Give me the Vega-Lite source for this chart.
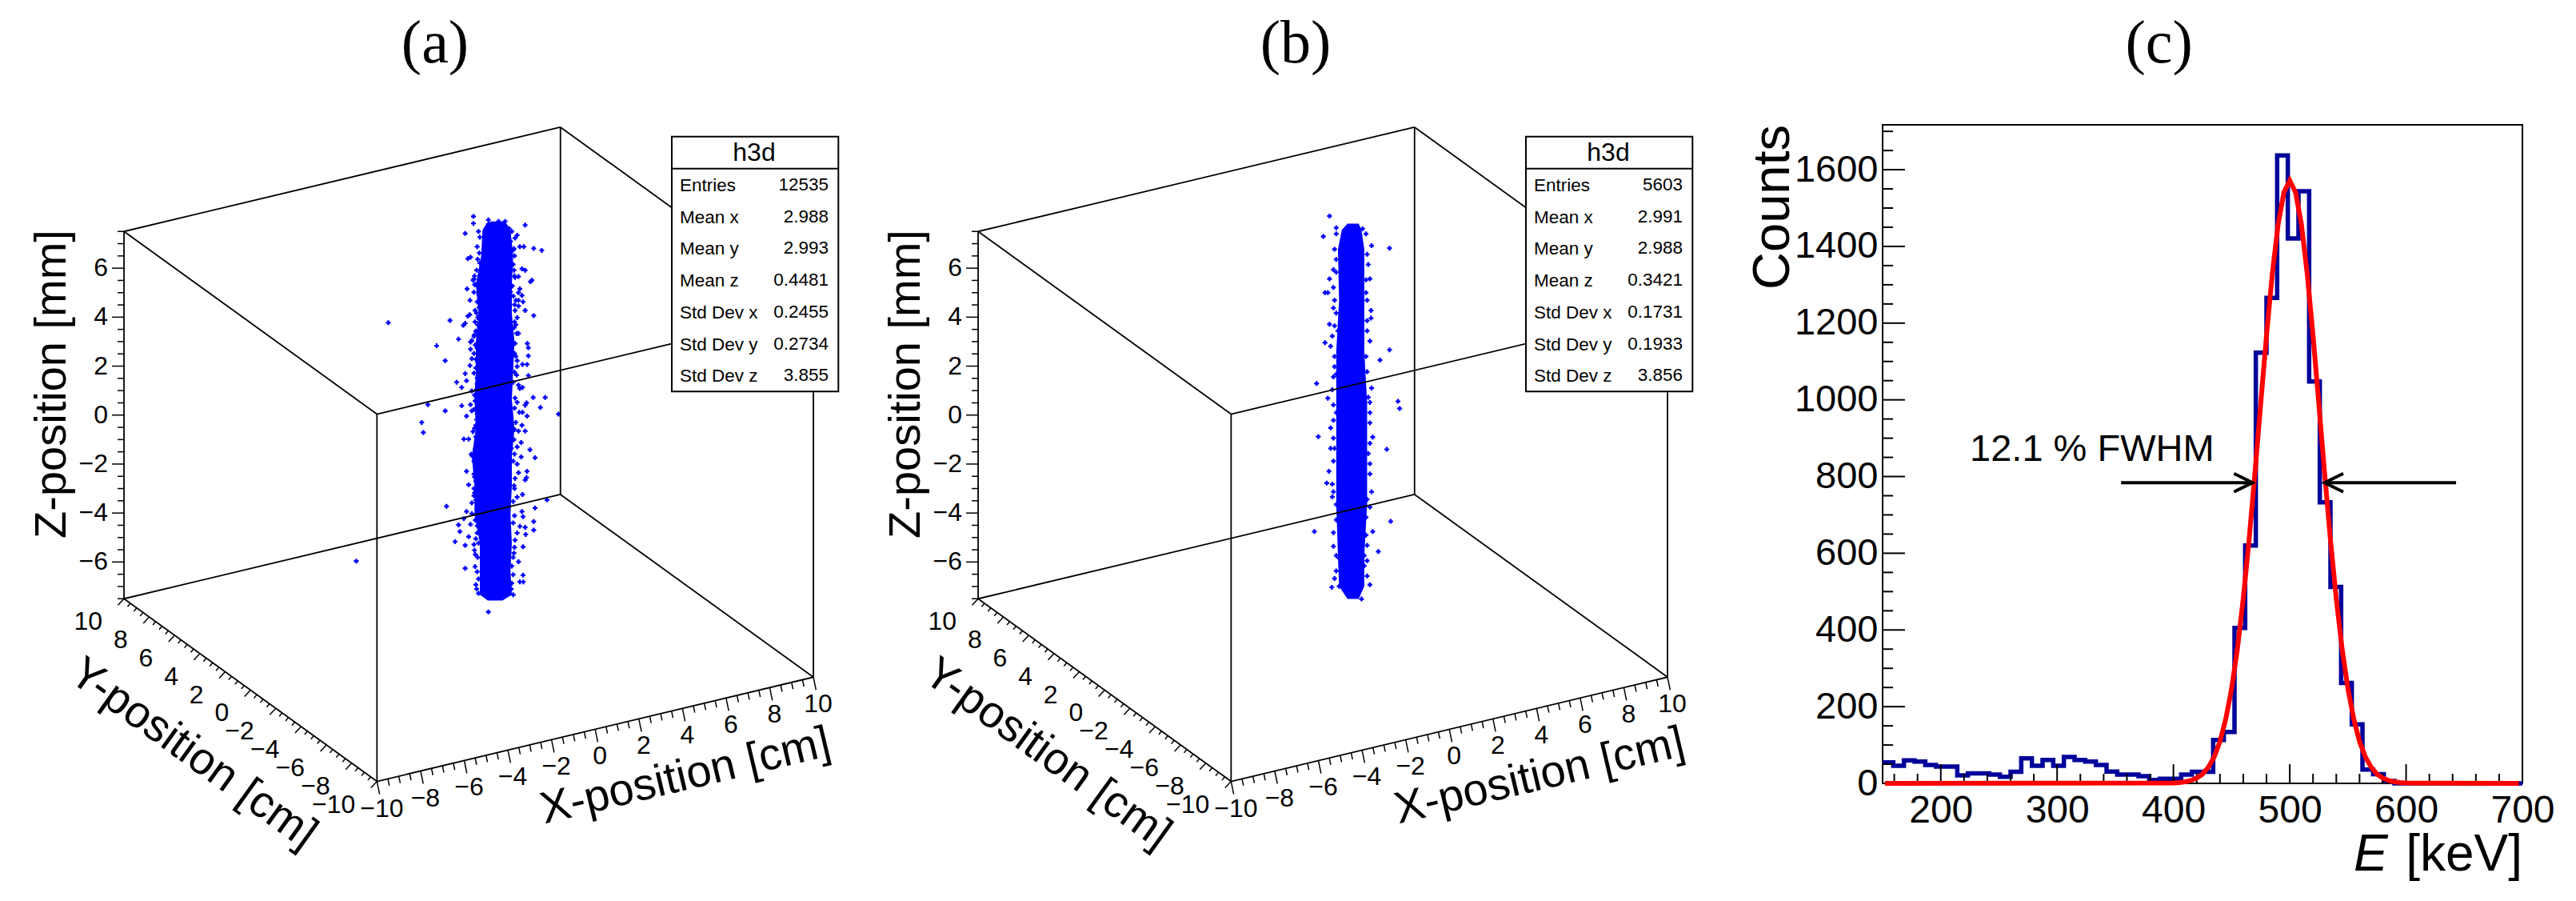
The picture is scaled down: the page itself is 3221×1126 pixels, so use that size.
{"$schema":"https://vega.github.io/schema/vega-lite/v6.json","padding":0,"background":"white","bounds":"flush","spacing":0,"config":{"view":{"stroke":null},"text":{"font":"Liberation Sans","color":"black"}},
"datasets":{
"edges":[{"x1":-10,"y1":-10,"z1":-7.5,"x2":10,"y2":-10,"z2":-7.5},{"x1":-10,"y1":-10,"z1":-7.5,"x2":-10,"y2":10,"z2":-7.5},{"x1":10,"y1":10,"z1":-7.5,"x2":10,"y2":-10,"z2":-7.5},{"x1":10,"y1":10,"z1":-7.5,"x2":-10,"y2":10,"z2":-7.5},{"x1":-10,"y1":-10,"z1":7.5,"x2":10,"y2":-10,"z2":7.5},{"x1":-10,"y1":-10,"z1":7.5,"x2":-10,"y2":10,"z2":7.5},{"x1":10,"y1":10,"z1":7.5,"x2":10,"y2":-10,"z2":7.5},{"x1":10,"y1":10,"z1":7.5,"x2":-10,"y2":10,"z2":7.5},{"x1":-10,"y1":-10,"z1":-7.5,"x2":-10,"y2":-10,"z2":7.5},{"x1":10,"y1":-10,"z1":-7.5,"x2":10,"y2":-10,"z2":7.5},{"x1":-10,"y1":10,"z1":-7.5,"x2":-10,"y2":10,"z2":7.5},{"x1":10,"y1":10,"z1":-7.5,"x2":10,"y2":10,"z2":7.5}],
"ticks3d":[{"a":"x","t":-10},{"a":"x","t":-9.5},{"a":"x","t":-9},{"a":"x","t":-8.5},{"a":"x","t":-8},{"a":"x","t":-7.5},{"a":"x","t":-7},{"a":"x","t":-6.5},{"a":"x","t":-6},{"a":"x","t":-5.5},{"a":"x","t":-5},{"a":"x","t":-4.5},{"a":"x","t":-4},{"a":"x","t":-3.5},{"a":"x","t":-3},{"a":"x","t":-2.5},{"a":"x","t":-2},{"a":"x","t":-1.5},{"a":"x","t":-1},{"a":"x","t":-0.5},{"a":"x","t":0},{"a":"x","t":0.5},{"a":"x","t":1},{"a":"x","t":1.5},{"a":"x","t":2},{"a":"x","t":2.5},{"a":"x","t":3},{"a":"x","t":3.5},{"a":"x","t":4},{"a":"x","t":4.5},{"a":"x","t":5},{"a":"x","t":5.5},{"a":"x","t":6},{"a":"x","t":6.5},{"a":"x","t":7},{"a":"x","t":7.5},{"a":"x","t":8},{"a":"x","t":8.5},{"a":"x","t":9},{"a":"x","t":9.5},{"a":"x","t":10},
{"a":"y","t":-10},{"a":"y","t":-9.5},{"a":"y","t":-9},{"a":"y","t":-8.5},{"a":"y","t":-8},{"a":"y","t":-7.5},{"a":"y","t":-7},{"a":"y","t":-6.5},{"a":"y","t":-6},{"a":"y","t":-5.5},{"a":"y","t":-5},{"a":"y","t":-4.5},{"a":"y","t":-4},{"a":"y","t":-3.5},{"a":"y","t":-3},{"a":"y","t":-2.5},{"a":"y","t":-2},{"a":"y","t":-1.5},{"a":"y","t":-1},{"a":"y","t":-0.5},{"a":"y","t":0},{"a":"y","t":0.5},{"a":"y","t":1},{"a":"y","t":1.5},{"a":"y","t":2},{"a":"y","t":2.5},{"a":"y","t":3},{"a":"y","t":3.5},{"a":"y","t":4},{"a":"y","t":4.5},{"a":"y","t":5},{"a":"y","t":5.5},{"a":"y","t":6},{"a":"y","t":6.5},{"a":"y","t":7},{"a":"y","t":7.5},{"a":"y","t":8},{"a":"y","t":8.5},{"a":"y","t":9},{"a":"y","t":9.5},{"a":"y","t":10},
{"a":"z","t":-7.5},{"a":"z","t":-7},{"a":"z","t":-6.5},{"a":"z","t":-6},{"a":"z","t":-5.5},{"a":"z","t":-5},{"a":"z","t":-4.5},{"a":"z","t":-4},{"a":"z","t":-3.5},{"a":"z","t":-3},{"a":"z","t":-2.5},{"a":"z","t":-2},{"a":"z","t":-1.5},{"a":"z","t":-1},{"a":"z","t":-0.5},{"a":"z","t":0},{"a":"z","t":0.5},{"a":"z","t":1},{"a":"z","t":1.5},{"a":"z","t":2},{"a":"z","t":2.5},{"a":"z","t":3},{"a":"z","t":3.5},{"a":"z","t":4},{"a":"z","t":4.5},{"a":"z","t":5},{"a":"z","t":5.5},{"a":"z","t":6},{"a":"z","t":6.5},{"a":"z","t":7},{"a":"z","t":7.5}],
"statsA":[{"row":0,"label":"Entries","value":"12535"},{"row":1,"label":"Mean x","value":"2.988"},{"row":2,"label":"Mean y","value":"2.993"},{"row":3,"label":"Mean z","value":"0.4481"},{"row":4,"label":"Std Dev x","value":"0.2455"},{"row":5,"label":"Std Dev y","value":"0.2734"},{"row":6,"label":"Std Dev z","value":"3.855"}],
"statsB":[{"row":0,"label":"Entries","value":"5603"},{"row":1,"label":"Mean x","value":"2.991"},{"row":2,"label":"Mean y","value":"2.988"},{"row":3,"label":"Mean z","value":"0.3421"},{"row":4,"label":"Std Dev x","value":"0.1731"},{"row":5,"label":"Std Dev y","value":"0.1933"},{"row":6,"label":"Std Dev z","value":"3.856"}],
"bodyA":[{"p":130,"l":340,"r":395},{"p":145,"l":320,"r":405},{"p":160,"l":310,"r":415},{"p":250,"l":305,"r":425},{"p":350,"l":285,"r":420},{"p":450,"l":295,"r":420},{"p":550,"l":285,"r":430},{"p":650,"l":285,"r":425},{"p":750,"l":280,"r":420},{"p":850,"l":285,"r":430},{"p":950,"l":270,"r":420},{"p":1050,"l":280,"r":420},{"p":1150,"l":280,"r":415},{"p":1250,"l":300,"r":420},{"p":1350,"l":300,"r":415},{"p":1430,"l":300,"r":420},{"p":1450,"l":330,"r":385}],
"bodyB":[{"p":250,"l":905,"r":925},{"p":262,"l":895,"r":930},{"p":300,"l":888,"r":935},{"p":400,"l":890,"r":935},{"p":500,"l":885,"r":935},{"p":600,"l":885,"r":940},{"p":700,"l":885,"r":940},{"p":800,"l":885,"r":940},{"p":900,"l":888,"r":935},{"p":960,"l":890,"r":935},{"p":985,"l":905,"r":925}],
"pointsA":[{"h":300,"p":185},{"h":298,"p":240},{"h":292,"p":262},{"h":288,"p":300},{"h":280,"p":320},{"h":275,"p":335},{"h":292,"p":345},{"h":296,"p":385},{"h":290,"p":410},{"h":297,"p":430},{"h":288,"p":450},{"h":300,"p":470},{"h":292,"p":490},{"h":285,"p":512},{"h":278,"p":530},{"h":270,"p":545},{"h":283,"p":560},{"h":290,"p":572},{"h":278,"p":590},{"h":292,"p":622},{"h":285,"p":640},{"h":290,"p":675},{"h":288,"p":715},{"h":280,"p":735},{"h":282,"p":755},{"h":278,"p":785},{"h":288,"p":820},{"h":280,"p":850},{"h":274,"p":862},{"h":285,"p":880},{"h":295,"p":905},{"h":282,"p":925},{"h":268,"p":940},{"h":278,"p":965},{"h":288,"p":985},{"h":278,"p":1010},{"h":285,"p":1035},{"h":280,"p":1075},{"h":285,"p":1100},{"h":290,"p":1130},{"h":270,"p":1148},{"h":283,"p":1170},{"h":290,"p":1190},{"h":285,"p":1235},{"h":280,"p":1275},{"h":292,"p":1300},{"h":290,"p":1350},{"h":295,"p":1375},{"h":288,"p":1410},{"h":420,"p":165},{"h":415,"p":200},{"h":428,"p":225},{"h":430,"p":250},{"h":425,"p":280},{"h":428,"p":300},{"h":432,"p":325},{"h":422,"p":355},{"h":425,"p":390},{"h":432,"p":440},{"h":440,"p":465},{"h":428,"p":500},{"h":438,"p":520},{"h":432,"p":555},{"h":430,"p":590},{"h":440,"p":635},{"h":438,"p":665},{"h":425,"p":690},{"h":450,"p":712},{"h":432,"p":745},{"h":430,"p":780},{"h":448,"p":795},{"h":435,"p":830},{"h":425,"p":850},{"h":445,"p":860},{"h":428,"p":890},{"h":418,"p":920},{"h":430,"p":940},{"h":425,"p":965},{"h":432,"p":1025},{"h":428,"p":1050},{"h":440,"p":1090},{"h":425,"p":1105},{"h":430,"p":1155},{"h":425,"p":1180},{"h":440,"p":1215},{"h":432,"p":1240},{"h":428,"p":1285},{"h":420,"p":1330},{"h":425,"p":1360},{"h":418,"p":1410},{"h":425,"p":1430},{"h":-43.5,"p":483},{"h":-163.5,"p":1313},{"h":276,"p":113},{"h":276,"p":137},{"h":332,"p":125},{"h":332,"p":140},{"h":370,"p":130},{"h":395,"p":130},{"h":470,"p":143},{"h":245,"p":172},{"h":295,"p":165},{"h":440,"p":178},{"h":432,"p":188},{"h":410,"p":155},{"h":290,"p":218},{"h":325,"p":205},{"h":450,"p":218},{"h":465,"p":218},{"h":502,"p":224},{"h":532,"p":231},{"h":425,"p":230},{"h":265,"p":255},{"h":255,"p":260},{"h":300,"p":275},{"h":458,"p":295},{"h":470,"p":300},{"h":430,"p":320},{"h":445,"p":322},{"h":278,"p":330},{"h":285,"p":350},{"h":490,"p":340},{"h":495,"p":335},{"h":280,"p":350},{"h":252,"p":365},{"h":278,"p":377},{"h":450,"p":365},{"h":445,"p":378},{"h":458,"p":388},{"h":415,"p":375},{"h":263,"p":405},{"h":462,"p":410},{"h":435,"p":405},{"h":445,"p":405},{"h":430,"p":420},{"h":445,"p":425},{"h":470,"p":440},{"h":282,"p":440},{"h":502,"p":458},{"h":262,"p":455},{"h":255,"p":460},{"h":292,"p":465},{"h":188,"p":475},{"h":282,"p":480},{"h":245,"p":485},{"h":238,"p":492},{"h":430,"p":480},{"h":435,"p":490},{"h":445,"p":520},{"h":300,"p":505},{"h":280,"p":525},{"h":220,"p":540},{"h":265,"p":550},{"h":138,"p":563},{"h":295,"p":560},{"h":478,"p":555},{"h":482,"p":570},{"h":265,"p":575},{"h":295,"p":585},{"h":482,"p":598},{"h":435,"p":600},{"h":170,"p":615},{"h":270,"p":608},{"h":285,"p":610},{"h":440,"p":615},{"h":460,"p":628},{"h":477,"p":628},{"h":263,"p":632},{"h":245,"p":660},{"h":278,"p":658},{"h":430,"p":655},{"h":482,"p":667},{"h":213,"p":690},{"h":250,"p":685},{"h":232,"p":708},{"h":290,"p":695},{"h":270,"p":720},{"h":445,"p":700},{"h":460,"p":708},{"h":105,"p":768},{"h":232,"p":772},{"h":265,"p":768},{"h":500,"p":743},{"h":545,"p":743},{"h":475,"p":762},{"h":470,"p":770},{"h":440,"p":760},{"h":527,"p":778},{"h":270,"p":790},{"h":170,"p":790},{"h":250,"p":808},{"h":290,"p":800},{"h":477,"p":808},{"h":460,"p":795},{"h":595,"p":801},{"h":82,"p":830},{"h":88,"p":865},{"h":285,"p":840},{"h":458,"p":840},{"h":470,"p":860},{"h":295,"p":870},{"h":430,"p":855},{"h":240,"p":888},{"h":258,"p":888},{"h":455,"p":900},{"h":440,"p":915},{"h":488,"p":925},{"h":507,"p":953},{"h":270,"p":945},{"h":455,"p":950},{"h":440,"p":975},{"h":250,"p":1000},{"h":477,"p":1000},{"h":445,"p":1005},{"h":475,"p":1022},{"h":470,"p":1030},{"h":280,"p":1020},{"h":258,"p":1047},{"h":430,"p":1060},{"h":278,"p":1060},{"h":278,"p":1085},{"h":460,"p":1081},{"h":552,"p":1100},{"h":175,"p":1122},{"h":270,"p":1110},{"h":507,"p":1128},{"h":250,"p":1140},{"h":458,"p":1140},{"h":462,"p":1158},{"h":240,"p":1165},{"h":265,"p":1185},{"h":502,"p":1175},{"h":220,"p":1187},{"h":450,"p":1192},{"h":470,"p":1195},{"h":502,"p":1205},{"h":225,"p":1210},{"h":472,"p":1220},{"h":258,"p":1228},{"h":290,"p":1215},{"h":207,"p":1245},{"h":245,"p":1258},{"h":278,"p":1255},{"h":295,"p":1250},{"h":462,"p":1263},{"h":430,"p":1265},{"h":283,"p":1290},{"h":445,"p":1315},{"h":245,"p":1338},{"h":282,"p":1332},{"h":462,"p":1362},{"h":450,"p":1385},{"h":463,"p":1385},{"h":285,"p":1395},{"h":295,"p":1425},{"h":332,"p":1490},{"h":425,"p":1300},{"h":420,"p":1390}],
"pointsB":[{"h":885,"p":270},{"h":882,"p":300},{"h":885,"p":345},{"h":880,"p":415},{"h":878,"p":470},{"h":882,"p":510},{"h":885,"p":545},{"h":878,"p":575},{"h":880,"p":635},{"h":882,"p":690},{"h":872,"p":735},{"h":878,"p":760},{"h":885,"p":830},{"h":880,"p":855},{"h":885,"p":900},{"h":882,"p":945},{"h":938,"p":270},{"h":942,"p":330},{"h":938,"p":385},{"h":940,"p":440},{"h":938,"p":510},{"h":942,"p":590},{"h":945,"p":640},{"h":942,"p":700},{"h":945,"p":720},{"h":940,"p":790},{"h":938,"p":860},{"h":935,"p":900},{"h":940,"p":940},{"h":873,"p":235},{"h":862,"p":275},{"h":885,"p":258},{"h":932,"p":260},{"h":948,"p":293},{"h":980,"p":298},{"h":885,"p":320},{"h":940,"p":310},{"h":880,"p":340},{"h":945,"p":358},{"h":873,"p":358},{"h":880,"p":375},{"h":870,"p":385},{"h":865,"p":385},{"h":940,"p":400},{"h":947,"p":420},{"h":947,"p":435},{"h":885,"p":425},{"h":873,"p":447},{"h":882,"p":450},{"h":865,"p":483},{"h":875,"p":490},{"h":945,"p":480},{"h":980,"p":497},{"h":963,"p":517},{"h":880,"p":550},{"h":850,"p":563},{"h":940,"p":540},{"h":948,"p":572},{"h":870,"p":592},{"h":880,"p":605},{"h":995,"p":598},{"h":998,"p":612},{"h":945,"p":600},{"h":853,"p":667},{"h":875,"p":650},{"h":880,"p":670},{"h":950,"p":668},{"h":945,"p":680},{"h":975,"p":692},{"h":875,"p":690},{"h":880,"p":715},{"h":945,"p":740},{"h":935,"p":745},{"h":868,"p":758},{"h":880,"p":775},{"h":878,"p":785},{"h":948,"p":775},{"h":945,"p":805},{"h":982,"p":833},{"h":950,"p":853},{"h":846,"p":853},{"h":880,"p":882},{"h":960,"p":892},{"h":895,"p":870},{"h":940,"p":880},{"h":885,"p":930},{"h":945,"p":957},{"h":877,"p":962},{"h":890,"p":960},{"h":935,"p":920},{"h":930,"p":985},{"h":890,"p":905},{"h":940,"p":910},{"h":895,"p":850},{"h":938,"p":825},{"h":882,"p":530},{"h":885,"p":800},{"h":888,"p":460},{"h":940,"p":460},{"h":938,"p":360},{"h":882,"p":400},{"h":945,"p":620},{"h":885,"p":620}],
"hist":[{"E":150,"c":55},{"E":159.17,"c":46},{"E":168.33,"c":60},{"E":177.5,"c":57},{"E":186.67,"c":48},{"E":195.83,"c":44},{"E":205,"c":44},{"E":214.17,"c":21},{"E":223.33,"c":26},{"E":232.5,"c":26},{"E":241.67,"c":23},{"E":250.83,"c":17},{"E":260,"c":30},{"E":269.17,"c":65},{"E":278.33,"c":46},{"E":287.5,"c":61},{"E":296.67,"c":46},{"E":305.83,"c":69},{"E":315,"c":61},{"E":324.17,"c":57},{"E":333.33,"c":48},{"E":342.5,"c":31},{"E":351.67,"c":23},{"E":360.83,"c":23},{"E":370,"c":19},{"E":379.17,"c":9},{"E":388.33,"c":12},{"E":397.5,"c":12},{"E":406.67,"c":23},{"E":415.83,"c":30},{"E":425,"c":30},{"E":434.17,"c":113},{"E":443.33,"c":134},{"E":452.5,"c":405},{"E":461.67,"c":620},{"E":470.83,"c":1123},{"E":480,"c":1266},{"E":489.17,"c":1637},{"E":498.33,"c":1421},{"E":507.5,"c":1544},{"E":516.67,"c":1048},{"E":525.83,"c":733},{"E":535,"c":512},{"E":544.17,"c":262},{"E":553.33,"c":154},{"E":562.5,"c":36},{"E":571.67,"c":24},{"E":580.83,"c":6},{"E":590,"c":0},{"E":599.17,"c":0},{"E":608.33,"c":0},{"E":617.5,"c":0},{"E":626.67,"c":0},{"E":635.83,"c":0},{"E":645,"c":0},{"E":654.17,"c":0},{"E":663.33,"c":0},{"E":672.5,"c":0},{"E":681.67,"c":0},{"E":690.83,"c":0},{"E":700,"c":0}],
"fit":[{"E":152,"c":0},{"E":400,"c":1},{"E":405,"c":2},{"E":410,"c":4},{"E":415,"c":7.5},{"E":420,"c":14},{"E":425,"c":24},{"E":430,"c":42},{"E":435,"c":69},{"E":440,"c":109},{"E":445,"c":168},{"E":450,"c":247},{"E":455,"c":351},{"E":460,"c":481},{"E":465,"c":634},{"E":470,"c":807},{"E":475,"c":989},{"E":480,"c":1168},{"E":485,"c":1329},{"E":490,"c":1458},{"E":495,"c":1541},{"E":500,"c":1572},{"E":505,"c":1541},{"E":510,"c":1458},{"E":515,"c":1329},{"E":520,"c":1168},{"E":525,"c":989},{"E":530,"c":807},{"E":535,"c":634},{"E":540,"c":481},{"E":545,"c":351},{"E":550,"c":247},{"E":555,"c":168},{"E":560,"c":109},{"E":565,"c":69},{"E":570,"c":42},{"E":575,"c":24},{"E":580,"c":14},{"E":585,"c":7.5},{"E":590,"c":4},{"E":595,"c":2},{"E":600,"c":1},{"E":697,"c":0}],
"arrows":[{"seg":"a","E":355,"c":784},{"seg":"a","E":468,"c":784},{"seg":"b","E":452,"c":808},{"seg":"b","E":468,"c":784},{"seg":"b","E":452,"c":760},{"seg":"c","E":643,"c":784},{"seg":"c","E":530,"c":784},{"seg":"d","E":546,"c":808},{"seg":"d","E":530,"c":784},{"seg":"d","E":546,"c":760}],
"ticksE":[{"t":160},{"t":180},{"t":200},{"t":220},{"t":240},{"t":260},{"t":280},{"t":300},{"t":320},{"t":340},{"t":360},{"t":380},{"t":400},{"t":420},{"t":440},{"t":460},{"t":480},{"t":500},{"t":520},{"t":540},{"t":560},{"t":580},{"t":600},{"t":620},{"t":640},{"t":660},{"t":680}],
"ticksC":[{"t":50},{"t":100},{"t":150},{"t":200},{"t":250},{"t":300},{"t":350},{"t":400},{"t":450},{"t":500},{"t":550},{"t":600},{"t":650},{"t":700},{"t":750},{"t":800},{"t":850},{"t":900},{"t":950},{"t":1000},{"t":1050},{"t":1100},{"t":1150},{"t":1200},{"t":1250},{"t":1300},{"t":1350},{"t":1400},{"t":1450},{"t":1500},{"t":1550},{"t":1600},{"t":1650},{"t":1700}],
"one":[{"k":1}]
},
"hconcat":[
{"width":1068,"height":1126,
"encoding":{"x":{"field":"u","type":"quantitative","scale":{"domain":[0,1068]},"axis":null},"y":{"field":"v","type":"quantitative","scale":{"domain":[1126,0]},"axis":null}},
"layer":[
{"data":{"name":"pointsA"},"transform":[{"calculate":"500+datum.h/3","as":"u"},{"calculate":"230+datum.p/2.786","as":"v"}],"mark":{"type":"point","shape":"cross","filled":true,"color":"#0000ff","size":36,"opacity":1}},
{"data":{"name":"bodyA"},"transform":[{"calculate":"500+datum.l/3","as":"u"},{"calculate":"500+datum.r/3","as":"u2"},{"calculate":"230+datum.p/2.786","as":"v"}],"mark":{"type":"area","orient":"horizontal","color":"#0000ff"},"encoding":{"x2":{"field":"u2"}}},
{"data":{"name":"edges"},"transform":[{"calculate":"586.05+27.285*datum.x1-15.815*datum.y1","as":"u"},{"calculate":"567.75-6.515*datum.x1-11.415*datum.y1-30.6*datum.z1","as":"v"},{"calculate":"586.05+27.285*datum.x2-15.815*datum.y2","as":"u2"},{"calculate":"567.75-6.515*datum.x2-11.415*datum.y2-30.6*datum.z2","as":"v2"}],"mark":{"type":"rule","color":"black","strokeWidth":1.8},"encoding":{"x2":{"field":"u2"},"y2":{"field":"v2"}}},
{"data":{"name":"ticks3d"},"transform":[{"calculate":"datum.t%2==0","as":"major"},{"calculate":"datum.a=='x'?datum.t:-10","as":"X"},{"calculate":"datum.a=='y'?datum.t:(datum.a=='x'?-10:10)","as":"Y"},{"calculate":"datum.a=='z'?datum.t:-7.5","as":"Z"},{"calculate":"586.05+27.285*datum.X-15.815*datum.Y","as":"u"},{"calculate":"567.75-6.515*datum.X-11.415*datum.Y-30.6*datum.Z","as":"v"},{"calculate":"datum.u+(datum.a=='x'?(datum.major?3.3:1.8):(datum.a=='y'?(datum.major?-7.5:-3.5):(datum.major?-15:-8)))","as":"u2"},{"calculate":"datum.v+(datum.a=='x'?(datum.major?16:8.5):(datum.a=='y'?(datum.major?8:4.3):0))","as":"v2"}],"mark":{"type":"rule","color":"black","strokeWidth":1.5},"encoding":{"x2":{"field":"u2"},"y2":{"field":"v2"}}},
{"data":{"name":"ticks3d"},"transform":[{"filter":"datum.a=='x'&&datum.t%2==0"},{"calculate":"(datum.t<0?'−':'')+abs(datum.t)","as":"lab"},{"calculate":"586.05+27.285*datum.t+158.15+6","as":"u"},{"calculate":"567.75-6.515*datum.t+114.15+229.5+34","as":"v"}],"mark":{"type":"text","fontSize":32,"align":"center","baseline":"middle"},"encoding":{"text":{"field":"lab"}}},
{"data":{"name":"ticks3d"},"transform":[{"filter":"datum.a=='y'&&datum.t%2==0"},{"calculate":"(datum.t<0?'−':'')+abs(datum.t)","as":"lab"},{"calculate":"586.05-272.85-15.815*datum.t-27","as":"u"},{"calculate":"567.75+65.15-11.415*datum.t+229.5+29","as":"v"}],"mark":{"type":"text","fontSize":32,"align":"right","baseline":"middle"},"encoding":{"text":{"field":"lab"}}},
{"data":{"name":"ticks3d"},"transform":[{"filter":"datum.a=='z'&&datum.t%2==0"},{"calculate":"(datum.t<0?'−':'')+abs(datum.t)","as":"lab"},{"calculate":"586.05-272.85-158.15-20","as":"u"},{"calculate":"567.75+65.15-114.15-30.6*datum.t","as":"v"}],"mark":{"type":"text","fontSize":32,"align":"right","baseline":"middle"},"encoding":{"text":{"field":"lab"}}},
{"data":{"name":"one"},"transform":[{"calculate":"'Z-position [mm]'","as":"lab"},{"calculate":"65","as":"u"},{"calculate":"480","as":"v"}],"mark":{"type":"text","fontSize":56,"angle":270,"align":"center","baseline":"middle"},"encoding":{"text":{"field":"lab"}}},
{"data":{"name":"one"},"transform":[{"calculate":"'Y-position [cm]'","as":"lab"},{"calculate":"241.7","as":"u"},{"calculate":"941.7","as":"v"}],"mark":{"type":"text","fontSize":56,"angle":35.8,"align":"center","baseline":"middle"},"encoding":{"text":{"field":"lab"}}},
{"data":{"name":"one"},"transform":[{"calculate":"'X-position [cm]'","as":"lab"},{"calculate":"857","as":"u"},{"calculate":"970","as":"v"}],"mark":{"type":"text","fontSize":56,"angle":346.6,"align":"center","baseline":"middle"},"encoding":{"text":{"field":"lab"}}},
{"data":{"name":"one"},"transform":[{"calculate":"'(a)'","as":"lab"},{"calculate":"544","as":"u"},{"calculate":"55","as":"v"}],"mark":{"type":"text","font":"Liberation Serif","fontSize":76,"align":"center","baseline":"middle"},"encoding":{"text":{"field":"lab"}}},
{"data":{"name":"one"},"transform":[{"calculate":"840","as":"u"},{"calculate":"1048.3","as":"u2"},{"calculate":"170.7","as":"v"},{"calculate":"489.3","as":"v2"}],"mark":{"type":"rect","fill":"white","stroke":"black","strokeWidth":2},"encoding":{"x2":{"field":"u2"},"y2":{"field":"v2"}}},
{"data":{"name":"one"},"transform":[{"calculate":"840","as":"u"},{"calculate":"1048.3","as":"u2"},{"calculate":"210.7","as":"v"}],"mark":{"type":"rule","color":"black","strokeWidth":2},"encoding":{"x2":{"field":"u2"}}},
{"data":{"name":"one"},"transform":[{"calculate":"'h3d'","as":"lab"},{"calculate":"943","as":"u"},{"calculate":"191","as":"v"}],"mark":{"type":"text","fontSize":32,"align":"center","baseline":"middle"},"encoding":{"text":{"field":"lab"}}},
{"data":{"name":"statsA"},"transform":[{"calculate":"850","as":"u"},{"calculate":"232+39.7*datum.row","as":"v"}],"mark":{"type":"text","fontSize":22.5,"align":"left","baseline":"middle"},"encoding":{"text":{"field":"label"}}},
{"data":{"name":"statsA"},"transform":[{"calculate":"1036","as":"u"},{"calculate":"231+39.7*datum.row","as":"v"}],"mark":{"type":"text","fontSize":22.5,"align":"right","baseline":"middle"},"encoding":{"text":{"field":"value"}}}
]},
{"width":1286,"height":1126,
"encoding":{"x":{"field":"u","type":"quantitative","scale":{"domain":[0,1286]},"axis":null},"y":{"field":"v","type":"quantitative","scale":{"domain":[1126,0]},"axis":null}},
"layer":[
{"data":{"name":"pointsB"},"transform":[{"calculate":"-18+datum.h/1.4255","as":"u"},{"calculate":"120+datum.p/1.567","as":"v"}],"mark":{"type":"point","shape":"cross","filled":true,"color":"#0000ff","size":36,"opacity":1}},
{"data":{"name":"bodyB"},"transform":[{"calculate":"-18+datum.l/1.4255","as":"u"},{"calculate":"-18+datum.r/1.4255","as":"u2"},{"calculate":"120+datum.p/1.567","as":"v"}],"mark":{"type":"area","orient":"horizontal","color":"#0000ff"},"encoding":{"x2":{"field":"u2"}}},
{"data":{"name":"edges"},"transform":[{"calculate":"586.05+27.285*datum.x1-15.815*datum.y1","as":"u"},{"calculate":"567.75-6.515*datum.x1-11.415*datum.y1-30.6*datum.z1","as":"v"},{"calculate":"586.05+27.285*datum.x2-15.815*datum.y2","as":"u2"},{"calculate":"567.75-6.515*datum.x2-11.415*datum.y2-30.6*datum.z2","as":"v2"}],"mark":{"type":"rule","color":"black","strokeWidth":1.8},"encoding":{"x2":{"field":"u2"},"y2":{"field":"v2"}}},
{"data":{"name":"ticks3d"},"transform":[{"calculate":"datum.t%2==0","as":"major"},{"calculate":"datum.a=='x'?datum.t:-10","as":"X"},{"calculate":"datum.a=='y'?datum.t:(datum.a=='x'?-10:10)","as":"Y"},{"calculate":"datum.a=='z'?datum.t:-7.5","as":"Z"},{"calculate":"586.05+27.285*datum.X-15.815*datum.Y","as":"u"},{"calculate":"567.75-6.515*datum.X-11.415*datum.Y-30.6*datum.Z","as":"v"},{"calculate":"datum.u+(datum.a=='x'?(datum.major?3.3:1.8):(datum.a=='y'?(datum.major?-7.5:-3.5):(datum.major?-15:-8)))","as":"u2"},{"calculate":"datum.v+(datum.a=='x'?(datum.major?16:8.5):(datum.a=='y'?(datum.major?8:4.3):0))","as":"v2"}],"mark":{"type":"rule","color":"black","strokeWidth":1.5},"encoding":{"x2":{"field":"u2"},"y2":{"field":"v2"}}},
{"data":{"name":"ticks3d"},"transform":[{"filter":"datum.a=='x'&&datum.t%2==0"},{"calculate":"(datum.t<0?'−':'')+abs(datum.t)","as":"lab"},{"calculate":"586.05+27.285*datum.t+158.15+6","as":"u"},{"calculate":"567.75-6.515*datum.t+114.15+229.5+34","as":"v"}],"mark":{"type":"text","fontSize":32,"align":"center","baseline":"middle"},"encoding":{"text":{"field":"lab"}}},
{"data":{"name":"ticks3d"},"transform":[{"filter":"datum.a=='y'&&datum.t%2==0"},{"calculate":"(datum.t<0?'−':'')+abs(datum.t)","as":"lab"},{"calculate":"586.05-272.85-15.815*datum.t-27","as":"u"},{"calculate":"567.75+65.15-11.415*datum.t+229.5+29","as":"v"}],"mark":{"type":"text","fontSize":32,"align":"right","baseline":"middle"},"encoding":{"text":{"field":"lab"}}},
{"data":{"name":"ticks3d"},"transform":[{"filter":"datum.a=='z'&&datum.t%2==0"},{"calculate":"(datum.t<0?'−':'')+abs(datum.t)","as":"lab"},{"calculate":"586.05-272.85-158.15-20","as":"u"},{"calculate":"567.75+65.15-114.15-30.6*datum.t","as":"v"}],"mark":{"type":"text","fontSize":32,"align":"right","baseline":"middle"},"encoding":{"text":{"field":"lab"}}},
{"data":{"name":"one"},"transform":[{"calculate":"'Z-position [mm]'","as":"lab"},{"calculate":"65","as":"u"},{"calculate":"480","as":"v"}],"mark":{"type":"text","fontSize":56,"angle":270,"align":"center","baseline":"middle"},"encoding":{"text":{"field":"lab"}}},
{"data":{"name":"one"},"transform":[{"calculate":"'Y-position [cm]'","as":"lab"},{"calculate":"241.7","as":"u"},{"calculate":"941.7","as":"v"}],"mark":{"type":"text","fontSize":56,"angle":35.8,"align":"center","baseline":"middle"},"encoding":{"text":{"field":"lab"}}},
{"data":{"name":"one"},"transform":[{"calculate":"'X-position [cm]'","as":"lab"},{"calculate":"857","as":"u"},{"calculate":"970","as":"v"}],"mark":{"type":"text","fontSize":56,"angle":346.6,"align":"center","baseline":"middle"},"encoding":{"text":{"field":"lab"}}},
{"data":{"name":"one"},"transform":[{"calculate":"'(b)'","as":"lab"},{"calculate":"552","as":"u"},{"calculate":"55","as":"v"}],"mark":{"type":"text","font":"Liberation Serif","fontSize":76,"align":"center","baseline":"middle"},"encoding":{"text":{"field":"lab"}}},
{"data":{"name":"one"},"transform":[{"calculate":"840","as":"u"},{"calculate":"1048.3","as":"u2"},{"calculate":"170.7","as":"v"},{"calculate":"489.3","as":"v2"}],"mark":{"type":"rect","fill":"white","stroke":"black","strokeWidth":2},"encoding":{"x2":{"field":"u2"},"y2":{"field":"v2"}}},
{"data":{"name":"one"},"transform":[{"calculate":"840","as":"u"},{"calculate":"1048.3","as":"u2"},{"calculate":"210.7","as":"v"}],"mark":{"type":"rule","color":"black","strokeWidth":2},"encoding":{"x2":{"field":"u2"}}},
{"data":{"name":"one"},"transform":[{"calculate":"'h3d'","as":"lab"},{"calculate":"943","as":"u"},{"calculate":"191","as":"v"}],"mark":{"type":"text","fontSize":32,"align":"center","baseline":"middle"},"encoding":{"text":{"field":"lab"}}},
{"data":{"name":"statsB"},"transform":[{"calculate":"850","as":"u"},{"calculate":"232+39.7*datum.row","as":"v"}],"mark":{"type":"text","fontSize":22.5,"align":"left","baseline":"middle"},"encoding":{"text":{"field":"label"}}},
{"data":{"name":"statsB"},"transform":[{"calculate":"1036","as":"u"},{"calculate":"231+39.7*datum.row","as":"v"}],"mark":{"type":"text","fontSize":22.5,"align":"right","baseline":"middle"},"encoding":{"text":{"field":"value"}}}
]},
{"bounds":"flush","spacing":0,"vconcat":[
{"width":800,"height":156,"data":{"name":"one"},"transform":[{"calculate":"'(c)'","as":"lab"},{"calculate":"387.6","as":"E"},{"calculate":"55","as":"c"}],"mark":{"type":"text","font":"Liberation Serif","fontSize":76,"align":"center","baseline":"middle"},"encoding":{"x":{"field":"E","type":"quantitative","scale":{"domain":[150,700]},"axis":null},"y":{"field":"c","type":"quantitative","scale":{"domain":[156,0]},"axis":null},"text":{"field":"lab"}}},
{"width":800,"height":823,"view":{"stroke":"black","strokeWidth":2},
"encoding":{"x":{"field":"E","type":"quantitative","scale":{"domain":[150,700],"nice":false},"axis":{"values":[200,300,400,500,600,700],"title":null,"grid":false,"ticks":false,"domain":false,"labelFont":"Liberation Sans","labelFontSize":48,"labelColor":"black","labelPadding":10,"labelFlush":false,"labelOverlap":false,"labelBound":false,"format":"d"}},"y":{"field":"c","type":"quantitative","scale":{"domain":[0,1717],"nice":false},"axis":{"values":[0,200,400,600,800,1000,1200,1400,1600],"title":null,"grid":false,"ticks":false,"domain":false,"labelFont":"Liberation Sans","labelFontSize":47,"labelColor":"black","labelPadding":6,"labelFlush":false,"labelOverlap":false,"labelBound":false,"format":"d"}}},
"layer":[
{"data":{"name":"hist"},"mark":{"type":"line","interpolate":"step-after","color":"#00009a","strokeWidth":5.5}},
{"data":{"name":"ticksE"},"transform":[{"calculate":"datum.t","as":"E"},{"calculate":"0","as":"c"},{"calculate":"datum.t%100==0?50:25","as":"c2"}],"mark":{"type":"rule","color":"black","strokeWidth":2},"encoding":{"y2":{"field":"c2"}}},
{"data":{"name":"ticksC"},"transform":[{"calculate":"datum.t","as":"c"},{"calculate":"150","as":"E"},{"calculate":"datum.t%200==0?169.2:159","as":"E2"}],"mark":{"type":"rule","color":"black","strokeWidth":2},"encoding":{"x2":{"field":"E2"}}},
{"data":{"name":"fit"},"mark":{"type":"line","color":"#ff0000","strokeWidth":6}},
{"data":{"name":"arrows"},"mark":{"type":"line","color":"black","strokeWidth":4},"encoding":{"detail":{"field":"seg"},"order":{"field":"k"}}},
{"data":{"name":"one"},"transform":[{"calculate":"'12.1 % FWHM'","as":"lab"},{"calculate":"225","as":"E"},{"calculate":"840","as":"c"}],"mark":{"type":"text","fontSize":47,"align":"left","baseline":"alphabetic"},"encoding":{"text":{"field":"lab"}}},
{"data":{"name":"one"},"transform":[{"calculate":"'Counts'","as":"lab"},{"calculate":"69.6","as":"E"},{"calculate":"1717","as":"c"}],"mark":{"type":"text","fontSize":65,"angle":270,"align":"right","baseline":"alphabetic"},"encoding":{"text":{"field":"lab"}}},
{"data":{"name":"one"},"transform":[{"calculate":"'[keV]'","as":"lab"},{"calculate":"700","as":"E"},{"calculate":"-227","as":"c"}],"mark":{"type":"text","fontSize":64,"align":"right","baseline":"alphabetic"},"encoding":{"text":{"field":"lab"}}},
{"data":{"name":"one"},"transform":[{"calculate":"'E'","as":"lab"},{"calculate":"555","as":"E"},{"calculate":"-227","as":"c"}],"mark":{"type":"text","fontSize":64,"fontStyle":"italic","align":"left","baseline":"alphabetic"},"encoding":{"text":{"field":"lab"}}}
]}
]}
]}
